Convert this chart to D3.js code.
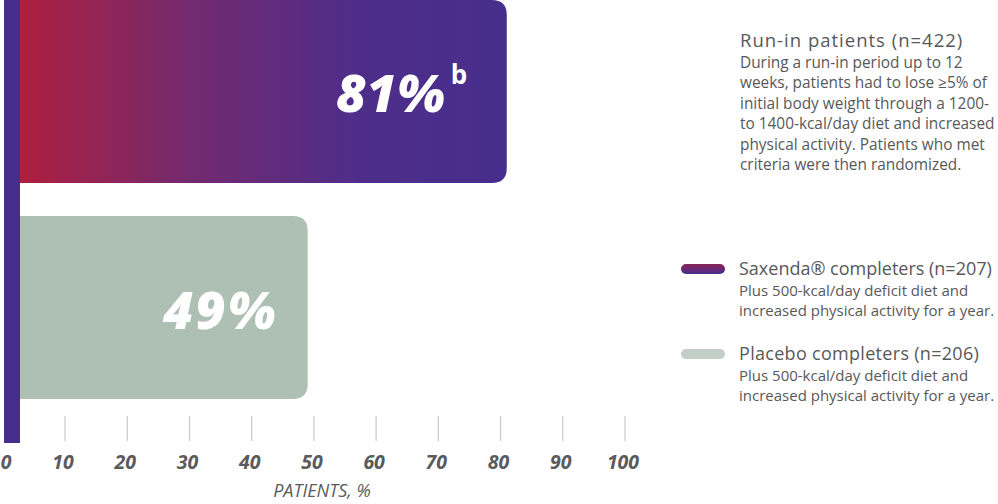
<!DOCTYPE html>
<html><head><meta charset="utf-8">
<script src="https://cdn.jsdelivr.net/npm/d3@7"></script>
<style>body{margin:0;background:#fff}svg{display:block}</style>
</head><body>
<svg id="c" width="998" height="504"></svg>
<script>
const categories = ["Run-in → Saxenda", "Run-in → Placebo"];
const values = [81, 49];
const valueLabels = ["81%", "49%"];
const superscripts = ["b", ""];
const ticks = [0,10,20,30,40,50,60,70,80,90,100];
const axisTitle = "PATIENTS, %";
const runInTitle = "Run-in patients (n=422)";
const runInLines = ["During a run-in period up to 12","weeks, patients had to lose \u22655% of","initial body weight through a 1200-","to 1400-kcal/day diet and increased","physical activity. Patients who met","criteria were then randomized."];
const legendTitles = ["Saxenda\u00ae completers (n=207)", "Placebo completers (n=206)"];
const legendLines = [["Plus 500-kcal/day deficit diet and","increased physical activity for a year."],["Plus 500-kcal/day deficit diet and","increased physical activity for a year."]];

const svg = d3.select("#c");
const font = "'Open Sans', 'Noto Sans', sans-serif";
const x = d3.scaleLinear().domain([0,100]).range([2.8,625]);
const y = d3.scaleBand().domain(categories).range([0,399]).paddingInner(0.153).paddingOuter(0);

const defs = svg.append("defs");
const g1 = defs.append("linearGradient").attr("id","grad").attr("x1","0").attr("x2","1").attr("y1","0").attr("y2","0");
g1.append("stop").attr("offset","0").attr("stop-color","#b01f3b");
g1.append("stop").attr("offset","0.35").attr("stop-color","#742a6e");
g1.append("stop").attr("offset","0.7").attr("stop-color","#4e2d8a");
g1.append("stop").attr("offset","1").attr("stop-color","#472e8c");
const g3 = defs.append("linearGradient").attr("id","lgrad2").attr("x1","0").attr("x2","0").attr("y1","0").attr("y2","1");
g3.append("stop").attr("offset","0").attr("stop-color","#8a2358");
g3.append("stop").attr("offset","1").attr("stop-color","#4a2e8c");

const fills = ["url(#grad)", "#aebfb4"];
const r = 15;
function barPath(x0, x1, y0, h) {
  return `M${x0},${y0} H${x1-r} Q${x1},${y0} ${x1},${y0+r} V${y0+h-r} Q${x1},${y0+h} ${x1-r},${y0+h} H${x0} Z`;
}
svg.selectAll("path.bar").data(values).join("path").attr("class","bar")
  .attr("d",(d,i)=>barPath(x(0)+10, x(d), y(categories[i]), y.bandwidth()))
  .attr("fill",(d,i)=>fills[i]);

svg.selectAll("line.tick").data(ticks.slice(1)).join("line")
  .attr("x1",d=>x(d)).attr("x2",d=>x(d)).attr("y1",416).attr("y2",441)
  .attr("stroke","#c8c8c8").attr("stroke-width",1.2);
svg.append("rect").attr("x",4).attr("y",0).attr("width",16).attr("height",443).attr("fill","#472e8c");

svg.selectAll("text.tl").data(ticks).join("text").attr("class","tl")
  .attr("x",d=>Math.max(x(d)-2, 6)).attr("y",469).attr("text-anchor","middle")
  .attr("font-family",font).attr("font-weight",700).attr("font-style","italic")
  .attr("font-size",19.5).attr("fill","#5b5b5e").text(d=>d);
svg.append("text").attr("x",322).attr("y",497).attr("text-anchor","middle")
  .attr("font-family",font).attr("font-style","italic").attr("font-size",18)
  .attr("fill","#5b5b5e").text(axisTitle);

values.forEach((v,i)=>{
  const yc = y(categories[i]) + y.bandwidth()/2;
  const right = x(v) - (i===0?62:30);
  svg.append("text").attr("x",right).attr("y",yc+21).attr("text-anchor","end")
    .attr("font-family",font).attr("font-weight",800).attr("font-style","italic")
    .attr("font-size",52).attr("letter-spacing", i===1?2:0).attr("fill","#fff").text(valueLabels[i]);
  if (superscripts[i]) svg.append("text").attr("x",right+6).attr("y",yc-7)
    .attr("font-family",font).attr("font-weight",700).attr("font-size",26)
    .attr("fill","#fff").text(superscripts[i]);
});

svg.append("text").attr("x",740).attr("y",47).attr("font-family",font).attr("font-size",18.5)
  .attr("letter-spacing",1).attr("fill","#58585a").text(runInTitle);
svg.selectAll("text.ri").data(runInLines).join("text").attr("class","ri")
  .attr("x",740).attr("y",(d,i)=>68+i*20.4).attr("font-family",font).attr("font-size",15.4)
  .attr("fill","#58585a").text(d=>d);

const ly = [269, 354];
const swFill = ["url(#lgrad2)", "#c1cfc6"];
legendTitles.forEach((t,i)=>{
  svg.append("rect").attr("x",681).attr("y",ly[i]-5).attr("width",44).attr("height",10).attr("rx",5)
    .attr("fill",swFill[i]);
  svg.append("text").attr("x",739).attr("y",ly[i]+6).attr("font-family",font).attr("font-size",18)
    .attr("letter-spacing", i===1?0.3:0).attr("fill","#58585a").text(t);
  legendLines[i].forEach((l,j)=>{
    svg.append("text").attr("x",739).attr("y",ly[i]+27+j*20.4).attr("font-family",font).attr("font-size",15)
      .attr("fill","#58585a").text(l);
  });
});
</script>
</body></html>
